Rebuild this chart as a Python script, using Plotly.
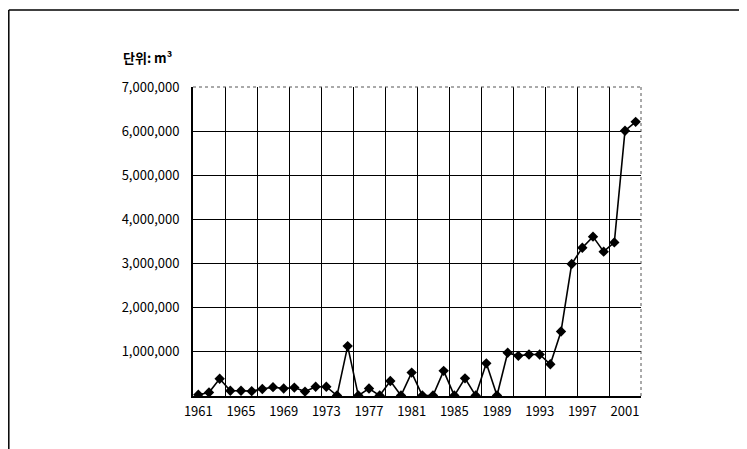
import plotly.graph_objects as go

years = list(range(1961, 2003))
values = [30000, 80000, 390000, 120000, 120000, 110000, 160000, 200000, 170000, 190000,
          100000, 210000, 210000, 10000, 1130000, 10000, 170000, 10000, 340000, 10000,
          530000, 10000, 10000, 570000, 10000, 400000, 10000, 740000, 10000, 980000,
          910000, 940000, 940000, 720000, 1460000, 2990000, 3360000, 3610000, 3270000, 3480000,
          6010000, 6210000]
x_tick_labels = [str(y) for y in range(1961, 2002, 4)]
y_ticks = list(range(1000000, 7000001, 1000000))
unit_label = "단위: m³"

# page body margin of the html offsets the figure by 8px
OFF = 8
W, H = 747 - OFF, 449 - OFF
L, R, T, B = 193 - OFF, 641 - OFF, 87 - OFF, 396 - OFF

def px(xp):
    return (xp - OFF - L) / (R - L)

def py(yp):
    return (B - (yp - OFF)) / (B - T)

font_family = "Noto Sans CJK KR, DejaVu Sans, sans-serif"

fig = go.Figure()
fig.add_trace(go.Scatter(
    x=years, y=values, mode="lines+markers",
    line=dict(color="black", width=1.6),
    marker=dict(symbol="diamond", size=8, color="black"),
    hoverinfo="x+y", showlegend=False,
))
# invisible trace to anchor grid axis
fig.add_trace(go.Scatter(
    x=years, y=values, xaxis="x2", mode="markers",
    marker=dict(opacity=0), hoverinfo="skip", showlegend=False,
))

grid_x = [1960.5 + 3 * k for k in range(15)]

fig.update_layout(
    width=W, height=H,
    margin=dict(l=L, r=W - R, t=T, b=H - B, pad=0),
    paper_bgcolor="white", plot_bgcolor="white",
    font=dict(family=font_family, size=13, color="black"),
    xaxis=dict(
        range=[1960.5, 2002.5],
        tickvals=[int(t) for t in x_tick_labels],
        ticktext=x_tick_labels,
        showgrid=False, zeroline=False,
        showline=True, linecolor="black", linewidth=1.5,
        ticks="", ticklabelstandoff=3,
        tickfont=dict(size=13, family=font_family),
    ),
    xaxis2=dict(
        range=[1960.5, 2002.5], overlaying="x", anchor="y",
        tickvals=grid_x, showticklabels=False,
        showgrid=True, gridcolor="black", gridwidth=1.3,
        zeroline=False, showline=False, ticks="",
    ),
    yaxis=dict(
        range=[0, 7000000],
        tickvals=y_ticks,
        tickformat=",d",
        showgrid=True, gridcolor="black", gridwidth=1.3,
        zeroline=False,
        showline=True, linecolor="black", linewidth=2,
        ticks="", ticklabelstandoff=9,
        tickfont=dict(size=13, family=font_family),
    ),
    annotations=[dict(
        text="<b>" + unit_label + "</b>", xref="paper", yref="paper",
        x=px(121), y=py(57), xanchor="left", yanchor="middle",
        showarrow=False, font=dict(size=13, family=font_family, color="black"),
    )],
    shapes=[
        dict(type="line", xref="paper", yref="paper", x0=px(8.8), y0=py(10), x1=px(747), y1=py(10),
             line=dict(color="black", width=1.5)),
        dict(type="line", xref="paper", yref="paper", x0=px(8.8), y0=py(10), x1=px(8.8), y1=py(449),
             line=dict(color="black", width=1.5)),
        dict(type="line", xref="paper", yref="paper", x0=0, y0=1, x1=1, y1=1,
             line=dict(color="#555555", width=1, dash="dot")),
        dict(type="line", xref="paper", yref="paper", x0=1, y0=0, x1=1, y1=1,
             line=dict(color="#555555", width=1, dash="dot")),
    ],
)

fig.write_html("out.html")
